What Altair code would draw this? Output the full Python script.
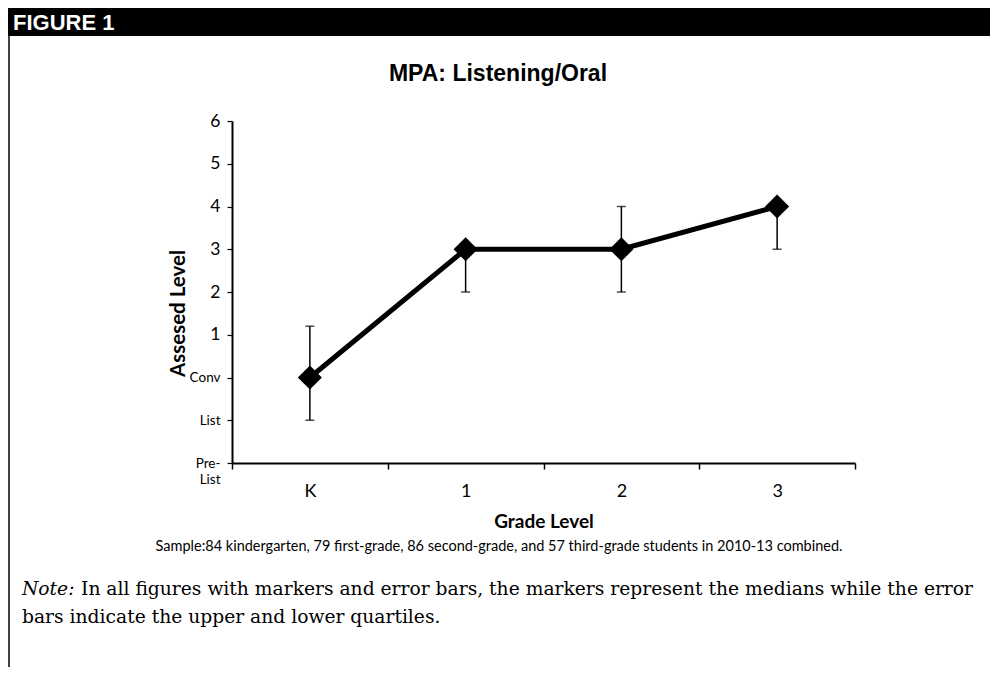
import altair as alt
import pandas as pd

# ---- data ----
grades = ["K", "1", "2", "3"]
medians = [0, 3, 3, 4]          # Conv = 0, List = -1, Pre-List = -2
q1 = [-1, 2, 2, 3]
q3 = [1.2, 3, 4, 4]
y_ticks = [-2, -1, 0, 1, 2, 3, 4, 5, 6]

df = pd.DataFrame({"grade": grades, "median": medians, "q1": q1, "q3": q3})

title_text = "MPA: Listening/Oral"
header_text = "FIGURE 1"
sample_text = ("Sample:84 kindergarten, 79 first-grade, 86 second-grade, and 57 "
               "third-grade students in 2010-13 combined.")
note_label = "Note:"
note_line1 = "In all figures with markers and error bars, the markers represent the medians while the error"
note_line2 = "bars indicate the upper and lower quartiles."

W, H = 623, 342
PAD_L, PAD_T = 224, 113

label_font = "Lato"

x_enc = alt.X(
    "grade:N", sort=grades,
    scale=alt.Scale(paddingInner=0, paddingOuter=0),
    axis=alt.Axis(
        title="Grade Level", titleFont=label_font, titleFontSize=19, titleFontWeight="bold",
        titleColor="black", titlePadding=12,
        labelAngle=0, labelFont=label_font, labelFontSize=18, labelColor="black", labelPadding=13,
        tickBand="extent", tickSize=6, tickColor="black", tickWidth=1.5,
        domainColor="black", domainWidth=2, grid=False,
    ),
)

y_scale = alt.Scale(domain=[-2, 6], nice=False, zero=False)
y_axis = alt.Axis(
    values=y_ticks,
    labelExpr=("datum.value == 0 ? 'Conv' : datum.value == -1 ? 'List' : "
               "datum.value == -2 ? ['Pre-', 'List'] : datum.label"),
    labelFont=label_font, labelColor="black",
    labelFontSize={"condition": {"test": "datum.value <= 0", "value": 13.5}, "value": 17.5},
    labelLineHeight=16, labelPadding=7, labelOverlap=False,
    tickSize=5, tickColor="black", tickWidth=1.2,
    domainColor="black", domainWidth=2, grid=False,
    title="Assesed Level", titleFont=label_font, titleFontSize=20.5, titleFontWeight="bold",
    titleColor="black", titleX=-54, titleY=192, titleAngle=-90,
    titleAlign="center", titleBaseline="middle",
)

base = alt.Chart(df)

err = base.mark_rule(color="black", strokeWidth=1.5).encode(
    x=x_enc,
    y=alt.Y("q1:Q", scale=y_scale, axis=y_axis),
    y2="q3:Q",
)
cap_lo = base.mark_tick(color="black", size=9, thickness=1.5, orient="horizontal").encode(
    x=alt.X("grade:N", sort=grades), y="q1:Q")
cap_hi = base.mark_tick(color="black", size=9, thickness=1.5, orient="horizontal").encode(
    x=alt.X("grade:N", sort=grades), y="q3:Q")
line = base.mark_line(color="black", strokeWidth=5).encode(
    x=alt.X("grade:N", sort=grades), y="median:Q")
pts = base.mark_point(shape="diamond", filled=True, color="black", size=580, opacity=1).encode(
    x=alt.X("grade:N", sort=grades), y="median:Q")

# ---- decorations (page layout) ----
one = pd.DataFrame({"k": [0]})
dec = alt.Chart(one)

header = dec.mark_rect(color="black").encode(
    x=alt.value(-224), x2=alt.value(770), y=alt.value(-114), y2=alt.value(-85))
header_t = dec.mark_text(text=header_text, font="Liberation Sans", fontSize=22, fontWeight="bold",
                         color="white", align="left", baseline="alphabetic").encode(
    x=alt.value(-219), y=alt.value(-91))
border = dec.mark_rule(color="black", strokeWidth=1.5).encode(
    x=alt.value(-223), y=alt.value(-86), y2=alt.value(560))
title = dec.mark_text(text=title_text, font="Liberation Sans", fontSize=23, fontWeight="bold",
                      color="black", align="center", baseline="middle").encode(
    x=alt.value(266), y=alt.value(-47))
sample = dec.mark_text(text=sample_text, font=label_font, fontSize=14.5, color="black",
                       align="center", baseline="middle").encode(
    x=alt.value(267), y=alt.value(426))
note_a = dec.mark_text(text=note_label, font="DejaVu Serif", fontSize=18.7, fontStyle="italic",
                       color="black", align="left", baseline="middle").encode(
    x=alt.value(-210), y=alt.value(468))
note_b = dec.mark_text(text=note_line1, font="DejaVu Serif", fontSize=18.7, color="black",
                       align="left", baseline="middle").encode(
    x=alt.value(-151), y=alt.value(468))
note_c = dec.mark_text(text=note_line2, font="DejaVu Serif", fontSize=18.7, color="black",
                       align="left", baseline="middle").encode(
    x=alt.value(-210), y=alt.value(496))

chart = alt.layer(
    err, cap_lo, cap_hi, line, pts,
    header, header_t, border, title, sample, note_a, note_b, note_c,
).properties(
    width=W, height=H,
    background="white",
    padding={"left": PAD_L, "top": PAD_T, "right": 135, "bottom": 204},
    autosize=alt.AutoSizeParams(type="none"),
).configure_view(stroke=None, strokeWidth=0)

chart.save("out.html", embed_options={"renderer": "svg", "actions": False})
